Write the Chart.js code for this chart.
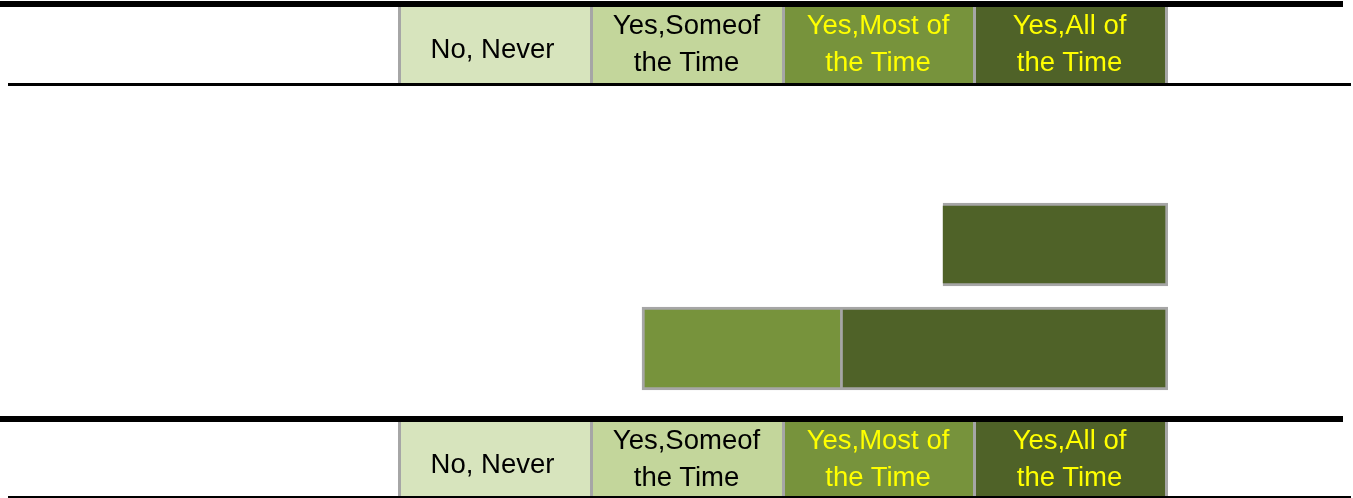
<!DOCTYPE html>
<html>
<head>
<meta charset="utf-8">
<script src="https://cdn.jsdelivr.net/npm/chart.js@4/dist/chart.umd.min.js"></script>
<style>
  html, body { margin: 0; padding: 0; background: #ffffff; width: 1353px; height: 498px; overflow: hidden; }
  #wrap { position: relative; width: 1353px; height: 498px; }
  canvas#c { position: absolute; left: 0; top: 0; }
  .hdr { position: absolute; left: 0; width: 1353px; }
  .bar { position: absolute; background: #000; }
  .cell { position: absolute; box-sizing: border-box; border-left: 3px solid #a6a6a6;
          font-family: "Liberation Sans", Arial, sans-serif; font-size: 27.5px; line-height: 36.7px;
          text-align: center; white-space: pre; }
  .cell.last { border-right: 3px solid #a6a6a6; }
</style>
</head>
<body>
<div id="wrap">
  <canvas id="c" width="1353" height="498"></canvas>
</div>
<script>
// ---- data ----
const categories = ["Row A", "Row B", "Row C"];
const seriesLabels = ["No, Never", "Yes,Someof the Time", "Yes,Most of the Time", "Yes,All of the Time"];
const headerLines = [["No, Never"], ["Yes,Someof", "the Time"], ["Yes,Most of", "the Time"], ["Yes,All of", "the Time"]];
const noNever   = [0, 0, 0];
const someTime  = [0, 0, 0];
const mostTime  = [0, 0, 26.1];
const allTime   = [0, 29.3, 42.3];
const xMax = 100;

// ---- styles ----
const fills = ["#d7e4bd", "#c3d69b", "#77933c", "#4f6228"];
const textColors = ["#000000", "#000000", "#ffff00", "#ffff00"];

// ---- header tables (legend) ----
const wrap = document.getElementById('wrap');
const cellX = [398, 590, 782, 973];
const cellW = [192, 192, 191, 195];
function buildHeader(topLine, cellTop, cellBottom, bottomLineTop, bottomLineH) {
  const t = document.createElement('div');
  t.className = 'bar';
  t.style.left = '0px'; t.style.top = topLine + 'px'; t.style.width = '1343px'; t.style.height = '6px';
  wrap.appendChild(t);
  seriesLabels.forEach((s, i) => {
    const c = document.createElement('div');
    c.className = 'cell' + (i === 3 ? ' last' : '');
    c.style.left = cellX[i] + 'px';
    c.style.top = cellTop + 'px';
    c.style.width = cellW[i] + 'px';
    c.style.height = (cellBottom - cellTop) + 'px';
    c.style.background = fills[i];
    c.style.color = textColors[i];
    const lines = headerLines[i];
    const inner = document.createElement('div');
    inner.textContent = lines.join('\n');
    inner.style.position = 'absolute';
    inner.style.left = (i === 0 ? -6 : -2) + 'px';
    inner.style.right = '0px';
    inner.style.top = (lines.length === 1 ? 23.6 : 0.3) + 'px';
    c.appendChild(inner);
    wrap.appendChild(c);
  });
  const b = document.createElement('div');
  b.className = 'bar';
  b.style.left = '8px'; b.style.top = bottomLineTop + 'px'; b.style.width = '1343px'; b.style.height = bottomLineH + 'px';
  wrap.appendChild(b);
}
buildHeader(1, 7, 83, 83, 3.3);
buildHeader(416, 422, 496, 496, 1.6);

// ---- chart ----
const seriesData = [noNever, someTime, mostTime, allTime];
const order = [3, 2, 1, 0]; // "All" stacks from the zero edge at the right
const datasets = order.map(i => ({
  label: seriesLabels[i],
  data: seriesData[i],
  backgroundColor: fills[i],
  borderColor: "#a6a6a6",
  borderWidth: 3,
  borderSkipped: i === 3 ? 'end' : false,
  barThickness: 83
}));

new Chart(document.getElementById('c'), {
  type: 'bar',
  data: { labels: categories, datasets },
  options: {
    indexAxis: 'y',
    responsive: false,
    devicePixelRatio: 1,
    animation: false,
    layout: { padding: { left: 399, right: 185, top: 88.5, bottom: 97.5 } },
    plugins: { legend: { display: false }, tooltip: { enabled: false } },
    scales: {
      x: { stacked: true, reverse: true, min: 0, max: xMax, display: false },
      y: { stacked: true, display: false }
    }
  }
});
</script>
</body>
</html>
